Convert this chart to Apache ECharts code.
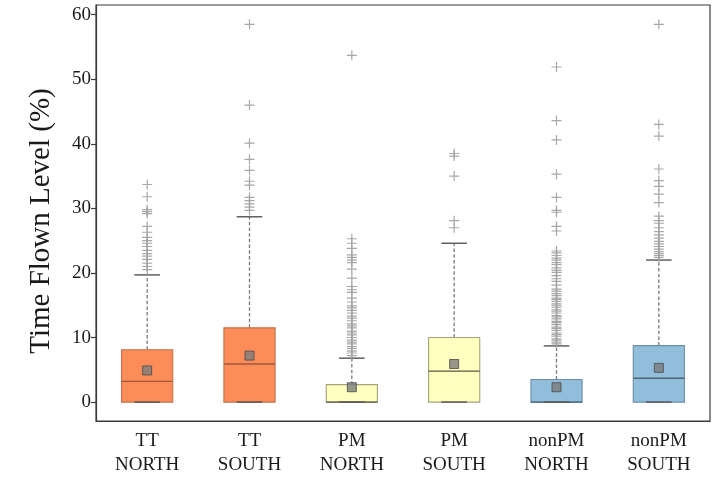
<!DOCTYPE html>
<html>
<head>
<meta charset="utf-8">
<script src="https://cdn.jsdelivr.net/npm/echarts@6/dist/echarts.min.js"></script>
<style>
  html, body { margin: 0; padding: 0; background: #fff; }
  #chart { width: 713px; height: 477px; }
</style>
</head>
<body>
<div id="chart"></div>
<script>
// Groups along the x axis
const categories = ['TT\nNORTH', 'TT\nSOUTH', 'PM\nNORTH', 'PM\nSOUTH', 'nonPM\nNORTH', 'nonPM\nSOUTH'];

// Box summaries per group: [lower whisker, Q1, median, Q3, upper whisker]
const boxStats = [
  [0, 0, 3.2, 8.1, 19.7],
  [0, 0, 5.9, 11.5, 28.7],
  [0, 0, 0, 2.7, 6.8],
  [0, 0, 4.8, 10.0, 24.6],
  [0, 0, 0, 3.5, 8.7],
  [0, 0, 3.7, 8.75, 22.0]
];

// Mean of each group
const means = [4.9, 7.2, 2.3, 5.9, 2.3, 5.3];

// Outliers per group
const outliersTTNorth = [33.7, 31.8, 29.8, 29.5, 29.2, 27.2, 26.3, 25.5, 25.0, 24.6, 24.1, 23.5, 23.0, 22.6, 22.1, 21.5, 21.0, 20.5];
const outliersTTSouth = [58.5, 46.0, 40.1, 37.6, 35.9, 34.2, 33.6, 31.7, 31.2, 30.7, 30.2, 29.7];
const outliersPMNorth = [53.7, 25.3, 24.6, 23.8, 22.8, 22.4, 22.0, 21.6, 20.6, 19.2, 17.9, 17.4, 17.0, 16.1, 15.5, 14.9, 14.6, 14.2, 13.8, 13.3, 13.0, 12.6, 12.1, 11.8, 11.5, 11.0, 10.7, 10.4, 10.0, 9.6, 9.3, 9.0, 8.6, 8.3, 7.9, 7.6, 7.2];
const outliersPMSouth = [38.5, 38.1, 35.0, 28.1, 27.0];
const outliersNonPMNorth = [51.9, 43.6, 40.6, 35.3, 31.7, 29.7, 29.4, 27.2, 26.5, 23.4, 23.1, 22.7, 22.3, 22.0, 21.6, 21.3, 20.8, 20.4, 20.1, 19.6, 19.1, 18.7, 18.1, 17.5, 17.2, 16.8, 16.5, 16.1, 15.9, 15.6, 15.2, 15.0, 14.7, 14.3, 14.1, 13.8, 13.4, 13.2, 12.9, 12.5, 12.3, 12.0, 11.6, 11.4, 11.1, 10.7, 10.5, 10.2, 9.8, 9.6, 9.3, 9.0];
const outliersNonPMSouth = [58.5, 43.0, 41.2, 36.1, 34.3, 33.4, 32.2, 30.9, 28.8, 28.1, 27.7, 27.0, 26.4, 25.9, 25.4, 24.9, 24.5, 24.1, 23.7, 23.3, 23.0, 22.7, 22.4];

// Y axis tick labels
const yTicks = [0, 10, 20, 30, 40, 50, 60];

const outlierGroups = [outliersTTNorth, outliersTTSouth, outliersPMNorth, outliersPMSouth, outliersNonPMNorth, outliersNonPMSouth];

// Fill / edge / median colours: TT orange, PM yellow, nonPM blue
const fills   = ['#fc8d59', '#fc8d59', '#ffffbf', '#ffffbf', '#91bfdb', '#91bfdb'];
const edges   = ['#c4714a', '#c4714a', '#a3a37c', '#a3a37c', '#6c8fa6', '#6c8fa6'];
const medians = ['#a0583a', '#a0583a', '#5a5a44', '#5a5a44', '#4d6576', '#4d6576'];

const FONT = '"Liberation Serif", "DejaVu Serif", serif';

const boxData = boxStats.map((s, i) => [i].concat(s));
const meanData = means.map((m, i) => [i, m]);
const outlierData = [];
outlierGroups.forEach((arr, i) => arr.forEach(v => outlierData.push([i, v])));

function renderBox(params, api) {
  const xi = api.value(0);
  const low = api.coord([xi, api.value(1)]);
  const q1 = api.coord([xi, api.value(2)]);
  const med = api.coord([xi, api.value(3)]);
  const q3 = api.coord([xi, api.value(4)]);
  const high = api.coord([xi, api.value(5)]);
  const band = api.size([1, 0])[0];
  const bw = band * 0.5;
  const cw = bw * 0.5;
  const x = q1[0];
  const i = params.dataIndex;
  const capStyle = { stroke: '#555555', lineWidth: 1.4 };
  return {
    type: 'group',
    children: [
      { type: 'line', shape: { x1: x, y1: q3[1], x2: x, y2: high[1] },
        style: { stroke: '#7a7a7a', lineWidth: 1.3, lineDash: [3.5, 2.2] } },
      { type: 'line', shape: { x1: x, y1: q1[1], x2: x, y2: low[1] },
        style: { stroke: '#7a7a7a', lineWidth: 1.3, lineDash: [3.5, 2.2] } },
      { type: 'rect', shape: { x: x - bw / 2, y: q3[1], width: bw, height: q1[1] - q3[1] },
        style: { fill: fills[i], stroke: edges[i], lineWidth: 1.1 } },
      { type: 'line', shape: { x1: x - bw / 2, y1: med[1], x2: x + bw / 2, y2: med[1] },
        style: { stroke: medians[i], lineWidth: 1.4 } },
      { type: 'line', shape: { x1: x - cw / 2, y1: high[1], x2: x + cw / 2, y2: high[1] }, style: capStyle },
      { type: 'line', shape: { x1: x - cw / 2, y1: low[1], x2: x + cw / 2, y2: low[1] }, style: capStyle }
    ]
  };
}

const chart = echarts.init(document.getElementById('chart'), null, { renderer: 'canvas' });
chart.setOption({
  animation: false,
  backgroundColor: '#ffffff',
  grid: {
    left: 96, right: 3, top: 5, bottom: 54,
    show: true, borderColor: '#3a3a3a', borderWidth: 1.2, containLabel: false
  },
  xAxis: {
    type: 'category',
    data: categories,
    boundaryGap: true,
    axisLine: { onZero: false, lineStyle: { color: '#3a3a3a', width: 1.2 } },
    axisTick: { alignWithLabel: true, length: 5, lineStyle: { color: '#3a3a3a', width: 1.2 } },
    axisLabel: { fontFamily: FONT, fontSize: 19, color: '#1a1a1a', lineHeight: 24, margin: 8 },
    splitLine: { show: false }
  },
  yAxis: {
    type: 'value',
    min: -2.93,
    max: 61.5,
    name: 'Time Flown Level (%)',
    nameLocation: 'middle',
    nameRotate: 90,
    nameGap: 40,
    nameTextStyle: { fontFamily: FONT, fontSize: 29, color: '#1a1a1a', padding: [0, 16, 0, 0] },
    axisLine: { show: true, lineStyle: { color: '#3a3a3a', width: 1.2 } },
    axisTick: { show: true, length: 5, customValues: yTicks, lineStyle: { color: '#3a3a3a', width: 1.2 } },
    axisLabel: { customValues: yTicks, fontFamily: FONT, fontSize: 19, color: '#1a1a1a', margin: 5 },
    splitLine: { show: false }
  },
  series: [
    {
      type: 'custom',
      renderItem: renderBox,
      data: boxData,
      encode: { x: 0, y: [1, 2, 3, 4, 5] },
      z: 2
    },
    {
      type: 'scatter',
      data: outlierData,
      symbol: 'path://M4.4,0H5.6V4.4H10V5.6H5.6V10H4.4V5.6H0V4.4H4.4Z',
      symbolSize: 10,
      itemStyle: { color: '#a3a3a3', opacity: 0.95 },
      z: 3
    },
    {
      type: 'scatter',
      data: meanData,
      symbol: 'rect',
      symbolSize: 9,
      itemStyle: { color: '#7c7c7c', borderColor: '#4a4a4a', borderWidth: 1 },
      z: 4
    }
  ]
});
</script>
</body>
</html>
